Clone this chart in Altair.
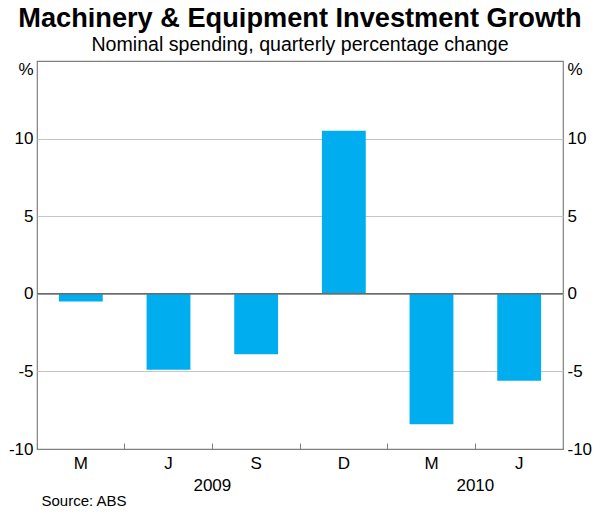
import altair as alt
import pandas as pd

# ---- data ----
quarters = ["2009-M", "2009-J", "2009-S", "2009-D", "2010-M", "2010-J"]
quarter_labels = ["M", "J", "S", "D", "M", "J"]
year_labels = ["", "", "2009", "", "", "2010"]
growth = [-0.5, -4.9, -3.9, 10.5, -8.4, -5.6]
y_ticks = [-10, -5, 0, 5, 10, 15]

df = pd.DataFrame({"q": quarters, "val": growth})
zero_df = pd.DataFrame({"z": [0]})

FONT = "Liberation Sans"
GRID = "#c6c6c6"
FRAME = "#808080"
ZERO = "#6a6a6a"
BAR = "#00AEEF"

PLOT_W = 526
PLOT_H = 388
STEP = PLOT_W / len(quarters)


def js_list(items):
    return "[" + ",".join("'" + s + "'" for s in items) + "]"


q_expr = js_list(quarter_labels) + "[indexof(" + js_list(quarters) + ", datum.value)]"
yr_expr = js_list(year_labels) + "[indexof(" + js_list(quarters) + ", datum.value)]"
y_expr = "datum.value == 15 ? '%' : '' + datum.value"

x_scale = alt.Scale(domain=quarters, paddingInner=0, paddingOuter=0)
y_scale = alt.Scale(domain=[-10, 15], nice=False, zero=False)

pct_baseline = {"condition": {"test": "datum.value == 15", "value": "top"}, "value": "middle"}
edge_hide = {"condition": {"test": "datum.value == 15 || datum.value == -10", "value": 0}, "value": 1}

base = alt.Chart(df)

bars = base.mark_bar(color=BAR, width=alt.RelativeBandSize(0.5)).encode(
    x=alt.X(
        "q:N", scale=x_scale, sort=quarters,
        axis=alt.Axis(title=None, labelExpr=q_expr, ticks=False, domain=False, orient="bottom",
                      labelAngle=0, labelPadding=6, grid=False),
    ),
    y=alt.Y(
        "val:Q", scale=y_scale,
        axis=alt.Axis(title=None, values=y_ticks, labelExpr=y_expr, ticks=False,
                      domain=False, grid=True, gridColor=GRID, gridOpacity=edge_hide,
                      labelBaseline=pct_baseline, labelPadding=4, orient="left"),
    ),
)

tick_layer = base.mark_bar(opacity=0).encode(
    x=alt.X(
        "q:N", scale=x_scale, sort=quarters,
        axis=alt.Axis(title=None, labels=False, domain=False, ticks=True, tickSize=6,
                      orient="bottom", tickColor=FRAME, bandPosition=0, offset=-6, grid=False),
    ),
    y=alt.Y(
        "val:Q", scale=y_scale,
        axis=alt.Axis(title=None, values=y_ticks, labelExpr=y_expr, ticks=False,
                      domain=False, grid=False, labelBaseline=pct_baseline,
                      labelPadding=4, orient="right"),
    ),
)

year_layer = base.mark_bar(opacity=0).encode(
    x=alt.X(
        "q:N", scale=x_scale, sort=quarters,
        axis=alt.Axis(title="Source: ABS", labelExpr=yr_expr, ticks=False, domain=False,
                      orient="bottom", labelAngle=0, labelOffset=-STEP / 2, labelPadding=28,
                      grid=False, titleX=4, titleY=44, titleAlign="left",
                      titleBaseline="top", titleFontWeight="normal", titleFontSize=15,
                      titleColor="black", titleFont=FONT),
    ),
    y=alt.Y("val:Q", scale=y_scale, axis=None),
)

zero_rule = alt.Chart(zero_df).mark_rule(color=ZERO, strokeWidth=1.5).encode(
    y=alt.Y("z:Q", scale=y_scale, axis=None)
)

chart = (
    alt.layer(bars, tick_layer, year_layer, zero_rule)
    .resolve_axis(x="independent", y="independent")
    .properties(
        width=PLOT_W,
        height=PLOT_H,
        autosize=alt.AutoSizeParams(type="none"),
        padding={"left": 29, "top": 53, "right": 29, "bottom": 59},
        title=alt.Title(
            "Machinery & Equipment Investment Growth",
            subtitle="Nominal spending, quarterly percentage change",
            font=FONT, fontSize=27.2, fontWeight="bold", color="black",
            subtitleFont=FONT, subtitleFontSize=19.6, subtitleColor="black",
            anchor="middle", offset=4, subtitlePadding=3,
        ),
    )
    .configure(font=FONT, background="white")
    .configure_view(stroke=FRAME, strokeWidth=1.2)
    .configure_axis(labelFont=FONT, labelFontSize=17, labelColor="black")
)

chart.save("out.html", embed_options={"renderer": "svg", "actions": False})
